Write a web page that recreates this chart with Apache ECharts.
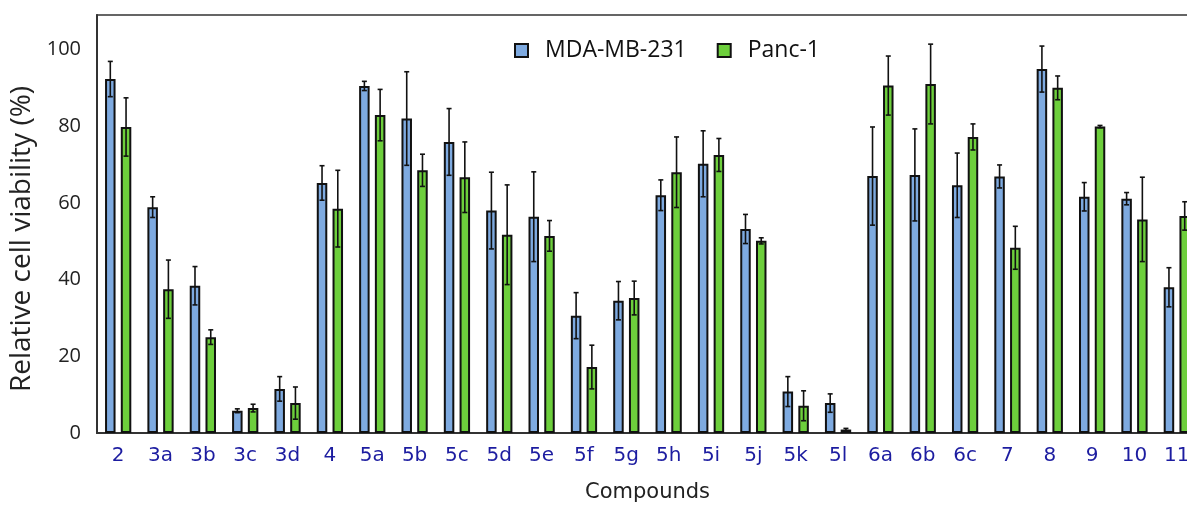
<!DOCTYPE html>
<html>
<head>
<meta charset="utf-8">
<script src="https://cdn.jsdelivr.net/npm/echarts@6/dist/echarts.min.js"></script>
<style>
html,body{margin:0;padding:0;background:#fff;}
#chart{width:1187px;height:507px;}
</style>
</head>
<body>
<div id="chart"></div>
<script>
const categories = ['2','3a','3b','3c','3d','4','5a','5b','5c','5d','5e','5f','5g','5h','5i','5j','5k','5l','6a','6b','6c','7','8','9','10','11'];
const mdaMean = [92.3,58.9,38.4,5.8,11.5,65.2,90.5,82.0,75.9,58.0,56.4,30.6,34.5,62.0,70.2,53.2,10.8,7.8,67.0,67.3,64.6,66.9,94.9,61.6,61.1,38.0];
const mdaErr  = [4.6,2.7,5.0,0.5,3.2,4.5,1.2,12.2,8.7,10.0,11.7,6.0,5.0,4.0,8.6,3.8,3.9,2.4,12.8,12.0,8.4,3.0,6.0,3.7,1.6,5.1];
const pancMean = [79.8,37.5,25.0,6.5,7.8,58.5,82.9,68.5,66.7,51.7,51.4,17.2,35.2,68.0,72.5,50.1,7.1,0.9,90.6,91.0,77.2,48.3,90.0,79.9,55.7,56.6];
const pancErr  = [7.6,7.6,1.9,1.0,4.2,10.0,6.7,4.2,9.2,13.0,4.0,5.7,4.4,9.2,4.3,0.8,3.9,0.3,7.7,10.4,3.4,5.6,3.1,0.3,11.0,3.7];
const yTicks = [0,20,40,60,80,100];

const BAR_W = 10.5;
const BAR_GAP = 0.5;
const BLUE = '#7eaae0';
const GREEN = '#6dcf3c';

function errData(means, errs){
  return means.map((m,i)=>[i, m, errs[i]]);
}
function errRender(offsetSign){
  return function(params, api){
    const x = api.value(0), m = api.value(1), e = api.value(2);
    const off = offsetSign * (BAR_W + BAR_W*BAR_GAP)/2;
    const hi = api.coord([x, m + e]);
    const lo = api.coord([x, Math.max(0, m - e)]);
    const cx = hi[0] + off;
    const cap = 2.5;
    const style = {stroke:'#111', lineWidth:1.6, fill:null};
    return {type:'group', children:[
      {type:'line', shape:{x1:cx, y1:hi[1], x2:cx, y2:lo[1]}, style:style},
      {type:'line', shape:{x1:cx-cap, y1:hi[1], x2:cx+cap, y2:hi[1]}, style:style},
      {type:'line', shape:{x1:cx-cap, y1:lo[1], x2:cx+cap, y2:lo[1]}, style:style}
    ]};
  };
}

const chart = echarts.init(document.getElementById('chart'), null, {renderer:'canvas'});
chart.setOption({
  animation:false,
  backgroundColor:'#fff',
  grid:{left:97, width:1101, top:15, bottom:74, show:true, borderColor:'#333', borderWidth:1.5,
        backgroundColor:'transparent', containLabel:false, outerBoundsMode:'none'},
  legend:{
    left:509, top:34, itemWidth:13, itemHeight:13, itemGap:30, icon:'rect',
    data:['MDA-MB-231','Panc-1'],
    textStyle:{fontFamily:'Open Sans', fontSize:23, color:'#111', padding:[0,0,0,12]}
  },
  xAxis:{
    type:'category', data:categories,
    name:'Compounds', nameLocation:'middle', nameGap:49,
    nameTextStyle:{fontFamily:'DejaVu Sans', fontSize:21, color:'#222'},
    axisLine:{lineStyle:{color:'#333', width:2}},
    axisTick:{show:false},
    axisLabel:{fontFamily:'DejaVu Sans', fontSize:20, color:'#1c1ca0', margin:13, interval:0}
  },
  yAxis:{
    type:'value', min:0, max:109, interval:20,
    name:'Relative cell viability (%)', nameLocation:'middle', nameGap:60, nameRotate:90,
    nameTextStyle:{fontFamily:'Open Sans', fontSize:28, color:'#222', padding:[0,30,0,0]},
    axisLine:{show:true, lineStyle:{color:'#333', width:2}},
    axisTick:{show:false},
    splitLine:{show:false},
    axisLabel:{fontFamily:'Open Sans', fontSize:20, color:'#222', margin:16, showMaxLabel:false,
      formatter:function(v){ return yTicks.indexOf(v) >= 0 ? String(v) : ''; }}
  },
  series:[
    {name:'MDA-MB-231', type:'bar', data:mdaMean, barWidth:BAR_W, barGap:(BAR_GAP*100)+'%',
     itemStyle:{color:BLUE, borderColor:'#111', borderWidth:2}},
    {name:'Panc-1', type:'bar', data:pancMean, barWidth:BAR_W,
     itemStyle:{color:GREEN, borderColor:'#111', borderWidth:2}},
    {type:'custom', data:errData(mdaMean, mdaErr), renderItem:errRender(-1), z:5, silent:true, encode:{x:0,y:1}},
    {type:'custom', data:errData(pancMean, pancErr), renderItem:errRender(1), z:5, silent:true, encode:{x:0,y:1}}
  ]
});
</script>
</body>
</html>
